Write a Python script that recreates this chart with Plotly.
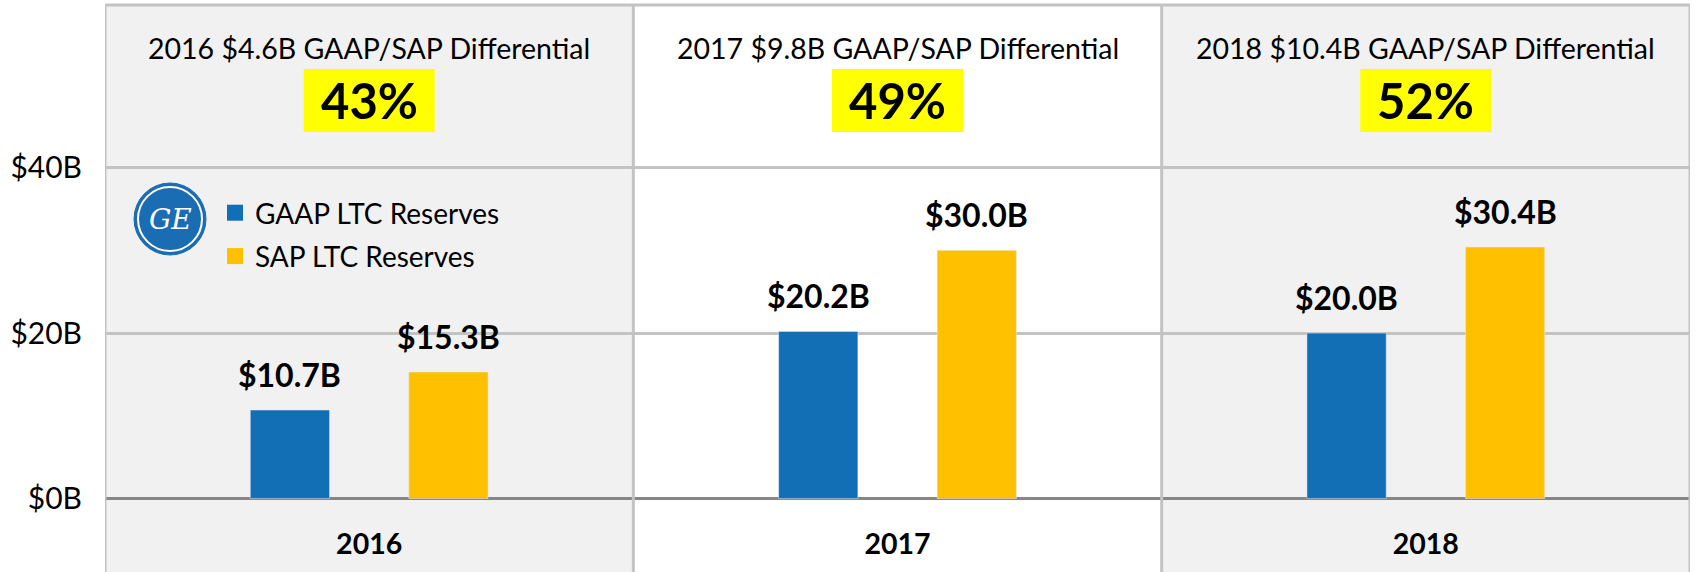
import plotly.graph_objects as go

years = ["2016", "2017", "2018"]
gaap = [10.7, 20.2, 20.0]
sap = [15.3, 30.0, 30.4]
diff_text = ["$4.6B", "$9.8B", "$10.4B"]
diff_pct = ["43%", "49%", "52%"]
y_ticks = [0, 20, 40]
y_tick_text = ["$0B", "$20B", "$40B"]

BLUE = "#126EB5"
GOLD = "#FFC000"
GRID = "#C3C3C3"
FONT = "Lato"

fig = go.Figure()
fig.add_trace(go.Bar(x=years, y=gaap, name="GAAP LTC Reserves", marker_color=BLUE,
                     showlegend=False, hoverinfo="y"))
fig.add_trace(go.Bar(x=years, y=sap, name="SAP LTC Reserves", marker_color=GOLD,
                     showlegend=False, hoverinfo="y"))
# legend entries with bigger square swatches
for name, col, grp in (("GAAP LTC Reserves", BLUE, "g"), ("SAP LTC Reserves", GOLD, "s")):
    fig.add_trace(go.Scatter(x=[None], y=[None], mode="markers", name=name, legendgroup=grp,
                             marker=dict(symbol="square", size=20, color=col)))

# cell backgrounds: outer columns grey, middle white
for i in (0, 2):
    fig.add_shape(type="rect", xref="x", yref="y", x0=i - 0.5, x1=i + 0.5, y0=-50, y1=100,
                  fillcolor="#F1F1F1", line_width=0, layer="below")
# column dividers and frame
for xv in (-0.5, 0.5, 1.5, 2.5):
    fig.add_shape(type="line", xref="x", yref="paper", x0=xv, x1=xv, y0=0, y1=1,
                  line=dict(color=GRID, width=3))
fig.add_shape(type="line", xref="paper", yref="paper", x0=0, x1=1, y0=1, y1=1,
              line=dict(color=GRID, width=3))

# value labels above the bars
for i, yr in enumerate(years):
    for off, vals in ((-0.15, gaap), (0.15, sap)):
        fig.add_annotation(x=i + off, y=vals[i], xref="x", yref="y", text=f"<b>${vals[i]:.1f}B</b>",
                           showarrow=False, xanchor="center", yanchor="bottom", yshift=14,
                           font=dict(family=FONT, size=32, color="black"))
    # header cell
    fig.add_annotation(x=i, y=0.925, xref="x", yref="paper",
                       text=f"{yr} {diff_text[i]} GAAP/SAP Differential", showarrow=False,
                       xanchor="center", yanchor="middle",
                       font=dict(family=FONT, size=28.5, color="black"))
    fig.add_shape(type="rect", xref="x", yref="paper", x0=i - 0.124, x1=i + 0.124,
                  y0=0.776, y1=0.887, fillcolor="#FFFF00", line_width=0)
    fig.add_annotation(x=i, y=0.832, xref="x", yref="paper", text=f"<b>{diff_pct[i]}</b>",
                       showarrow=False, xanchor="center", yanchor="middle",
                       font=dict(family=FONT, size=49, color="black"))

# GE logo
logo_x = (170 - 105) / 1585
logo_y = (572 - 219) / 567
fig.add_shape(type="circle", xref="paper", yref="paper", xsizemode="pixel", ysizemode="pixel",
              xanchor=logo_x, yanchor=logo_y, x0=-36, x1=36, y0=-36, y1=36,
              fillcolor="#1A6CB3", line=dict(color="#1A6CB3", width=1))
fig.add_shape(type="circle", xref="paper", yref="paper", xsizemode="pixel", ysizemode="pixel",
              xanchor=logo_x, yanchor=logo_y, x0=-32, x1=32, y0=-32, y1=32,
              fillcolor="#1A6CB3", line=dict(color="white", width=2))
fig.add_annotation(x=logo_x, y=logo_y, xref="paper", yref="paper", text="<i>GE</i>",
                   showarrow=False, xanchor="center", yanchor="middle",
                   font=dict(family="DejaVu Serif", size=28, color="white"))

fig.update_layout(
    width=1696, height=572,
    margin=dict(l=105, r=6, t=5, b=0),
    paper_bgcolor="white", plot_bgcolor="white",
    barmode="group", bargap=0.4, bargroupgap=0.5,
    font=dict(family=FONT, color="black"),
    showlegend=True,
    legend=dict(x=(215 - 105) / 1585, y=(572 - 234.5) / 567, xanchor="left", yanchor="middle",
                bgcolor="rgba(0,0,0,0)", font=dict(family=FONT, size=28),
                itemsizing="trace", tracegroupgap=4),
    xaxis=dict(range=[-0.5, 2.5], anchor="free", position=(572 - 524) / 567,
               showline=False, showgrid=False, ticks="",
               tickfont=dict(family=FONT, size=28.5, color="black"),
               tickvals=years, ticktext=[f"<b>{y}</b>" for y in years]),
    yaxis=dict(range=[-8.87, 59.65], tickvals=y_ticks, ticktext=y_tick_text,
               showgrid=True, gridcolor=GRID, gridwidth=3,
               zeroline=True, zerolinecolor="#868686", zerolinewidth=3,
               tickfont=dict(family=FONT, size=30, color="black"),
               ticklabelstandoff=22),
)

fig.write_html("out.html", config={"displayModeBar": False},
               post_script="document.body.style.margin='0';")
